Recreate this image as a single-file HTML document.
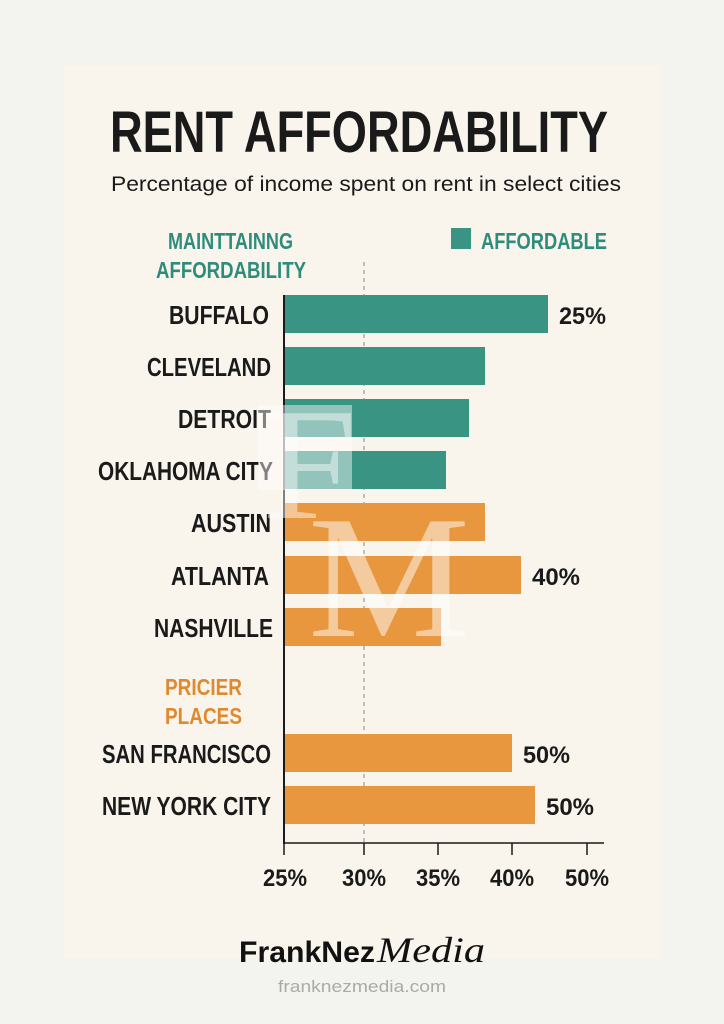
<!DOCTYPE html>
<html><head><meta charset="utf-8"><style>
html,body{margin:0;padding:0;background:#f3f3ef;}
svg{display:block;}
</style></head><body>
<svg width="724" height="1024" viewBox="0 0 724 1024" xmlns="http://www.w3.org/2000/svg">
<rect x="0" y="0" width="724" height="1024" fill="#f3f3ef"/>
<rect x="64" y="66" width="596" height="892" fill="#faf5ec"/>
<g font-family="'Liberation Sans Narrow','Liberation Sans',sans-serif" font-weight="bold">
<text x="110" y="152" font-size="58" fill="#1a1a1a" textLength="498" lengthAdjust="spacingAndGlyphs">RENT AFFORDABILITY</text>
<text x="111" y="191" font-size="21" font-weight="normal" font-family="'Liberation Sans',sans-serif" fill="#1a1a1a" textLength="510" lengthAdjust="spacingAndGlyphs">Percentage of income spent on rent in select cities</text>
<text x="168" y="249" font-size="23" fill="#2f8c7c" textLength="125" lengthAdjust="spacingAndGlyphs">MAINTTAINNG</text>
<text x="156" y="278" font-size="23" fill="#2f8c7c" textLength="150" lengthAdjust="spacingAndGlyphs">AFFORDABILITY</text>
<rect x="451" y="228" width="20" height="21" fill="#3a9484"/>
<text x="481" y="249" font-size="23" fill="#2f8c7c" textLength="126" lengthAdjust="spacingAndGlyphs">AFFORDABLE</text>
<line x1="364" y1="262" x2="364" y2="842" stroke="#888" stroke-width="1" stroke-dasharray="4,4"/>
<g fill="#3a9484">
<rect x="285" y="295" width="263" height="38"/>
<rect x="285" y="347" width="200" height="38"/>
<rect x="285" y="399" width="184" height="38"/>
<rect x="285" y="451" width="161" height="38"/>
</g>
<g fill="#e8973e">
<rect x="285" y="503" width="200" height="38"/>
<rect x="285" y="556" width="236" height="38"/>
<rect x="285" y="608" width="156" height="38"/>
<rect x="285" y="734" width="227" height="38"/>
<rect x="285" y="786" width="250" height="38"/>
</g>
<g font-size="26" fill="#1a1a1a" text-anchor="end">
<text x="269" y="324" textLength="100" lengthAdjust="spacingAndGlyphs">BUFFALO</text>
<text x="271" y="376" textLength="124" lengthAdjust="spacingAndGlyphs">CLEVELAND</text>
<text x="271" y="428" textLength="93" lengthAdjust="spacingAndGlyphs">DETROIT</text>
<text x="273" y="480" textLength="175" lengthAdjust="spacingAndGlyphs">OKLAHOMA CITY</text>
<text x="271" y="532" textLength="80" lengthAdjust="spacingAndGlyphs">AUSTIN</text>
<text x="269" y="585" textLength="98" lengthAdjust="spacingAndGlyphs">ATLANTA</text>
<text x="273" y="637" textLength="119" lengthAdjust="spacingAndGlyphs">NASHVILLE</text>
<text x="271" y="763" textLength="169" lengthAdjust="spacingAndGlyphs">SAN FRANCISCO</text>
<text x="271" y="815" textLength="169" lengthAdjust="spacingAndGlyphs">NEW YORK CITY</text>
</g>
<text x="165" y="695" font-size="23" fill="#e08a30" textLength="77" lengthAdjust="spacingAndGlyphs">PRICIER</text>
<text x="165" y="724" font-size="23" fill="#e08a30" textLength="77" lengthAdjust="spacingAndGlyphs">PLACES</text>
<g font-size="24" fill="#1a1a1a">
<text x="559" y="324" textLength="47" lengthAdjust="spacingAndGlyphs">25%</text>
<text x="532" y="585" textLength="48" lengthAdjust="spacingAndGlyphs">40%</text>
<text x="523" y="763" textLength="47" lengthAdjust="spacingAndGlyphs">50%</text>
<text x="546" y="815" textLength="48" lengthAdjust="spacingAndGlyphs">50%</text>
</g>
<line x1="284" y1="295" x2="284" y2="844" stroke="#1a1a1a" stroke-width="2"/>
<line x1="283" y1="843" x2="604" y2="843" stroke="#1a1a1a" stroke-width="1.5"/>
<g stroke="#1a1a1a" stroke-width="1.5">
<line x1="284" y1="843" x2="284" y2="855"/><line x1="364" y1="843" x2="364" y2="855"/>
<line x1="438" y1="843" x2="438" y2="855"/><line x1="512" y1="843" x2="512" y2="855"/>
<line x1="587" y1="843" x2="587" y2="855"/>
</g>
<g font-size="24" fill="#1a1a1a" text-anchor="middle">
<text x="285" y="886" textLength="44" lengthAdjust="spacingAndGlyphs">25%</text>
<text x="364" y="886" textLength="44" lengthAdjust="spacingAndGlyphs">30%</text>
<text x="438" y="886" textLength="44" lengthAdjust="spacingAndGlyphs">35%</text>
<text x="512" y="886" textLength="44" lengthAdjust="spacingAndGlyphs">40%</text>
<text x="587" y="886" textLength="44" lengthAdjust="spacingAndGlyphs">50%</text>
</g>
</g>
<!-- watermark -->
<rect x="258" y="405" width="94" height="85" fill="#ffffff" opacity="0.45"/>
<text x="262" y="518" font-family="'Liberation Serif',serif" font-size="160" fill="#ffffff" opacity="0.45" textLength="95" lengthAdjust="spacingAndGlyphs">F</text>
<text x="308" y="636" font-family="'Liberation Serif',serif" font-size="175" fill="#ffffff" opacity="0.5" textLength="162" lengthAdjust="spacingAndGlyphs">M</text>
<text x="239" y="962" font-family="'Liberation Sans',sans-serif" font-weight="bold" font-size="30" fill="#111" textLength="136" lengthAdjust="spacingAndGlyphs">FrankNez</text>
<text x="377" y="962" font-family="'Liberation Serif',serif" font-style="italic" font-size="36" fill="#111" textLength="108" lengthAdjust="spacingAndGlyphs">Media</text>
<text x="362" y="992" text-anchor="middle" font-family="'Liberation Sans',sans-serif" font-size="17" fill="#aaaaaa" textLength="168" lengthAdjust="spacingAndGlyphs">franknezmedia.com</text>
</svg>
</body></html>
